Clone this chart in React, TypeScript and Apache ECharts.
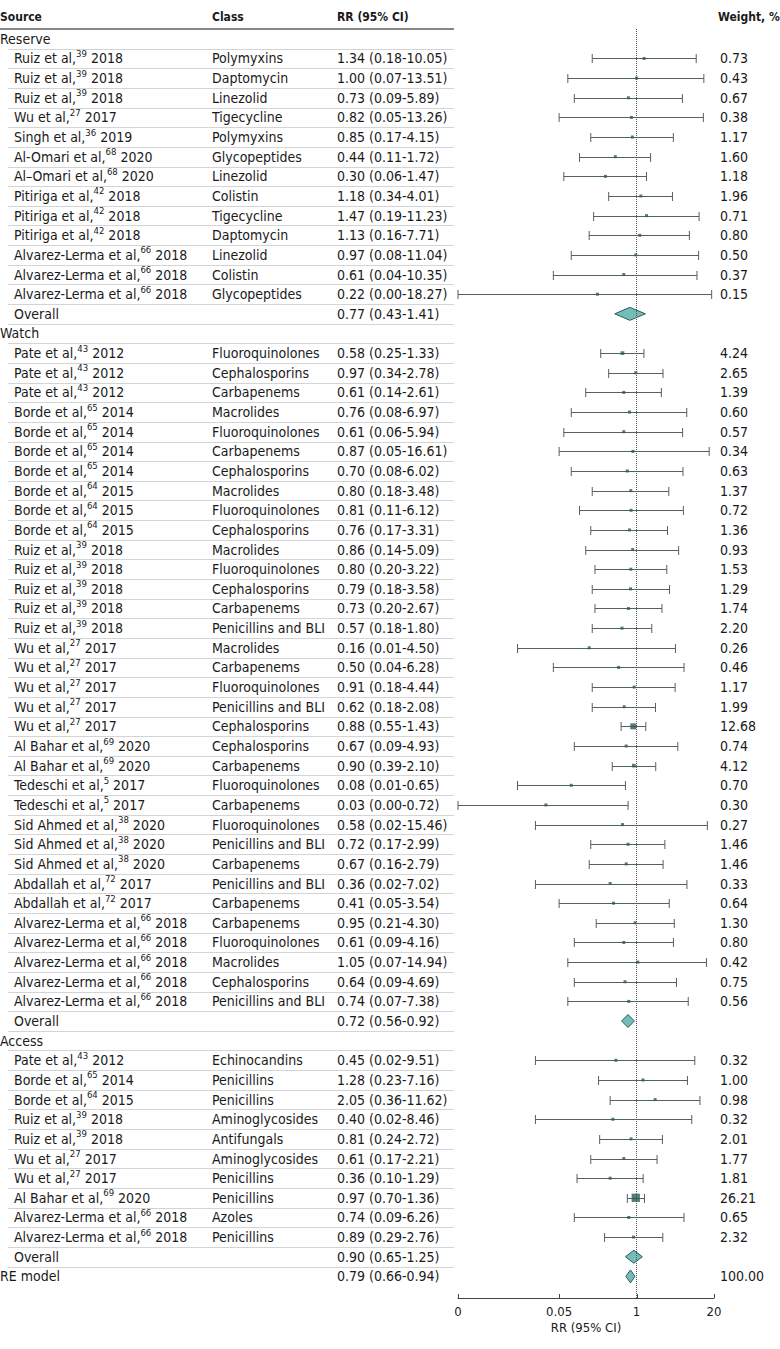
import React, { useEffect, useRef } from "react";
import * as echarts from "echarts";

// [author, reference, year, class, RR, lower CI, upper CI, weight %]
type Study = [string, number, number, string, number, number, number, number];

const reserveStudies: Study[] = [
  ["Ruiz et al", 39, 2018, "Polymyxins", 1.34, 0.18, 10.05, 0.73],
  ["Ruiz et al", 39, 2018, "Daptomycin", 1.0, 0.07, 13.51, 0.43],
  ["Ruiz et al", 39, 2018, "Linezolid", 0.73, 0.09, 5.89, 0.67],
  ["Wu et al", 27, 2017, "Tigecycline", 0.82, 0.05, 13.26, 0.38],
  ["Singh et al", 36, 2019, "Polymyxins", 0.85, 0.17, 4.15, 1.17],
  ["Al-Omari et al", 68, 2020, "Glycopeptides", 0.44, 0.11, 1.72, 1.6],
  ["Al\u2013Omari et al", 68, 2020, "Linezolid", 0.3, 0.06, 1.47, 1.18],
  ["Pitiriga et al", 42, 2018, "Colistin", 1.18, 0.34, 4.01, 1.96],
  ["Pitiriga et al", 42, 2018, "Tigecycline", 1.47, 0.19, 11.23, 0.71],
  ["Pitiriga et al", 42, 2018, "Daptomycin", 1.13, 0.16, 7.71, 0.8],
  ["Alvarez-Lerma et al", 66, 2018, "Linezolid", 0.97, 0.08, 11.04, 0.5],
  ["Alvarez-Lerma et al", 66, 2018, "Colistin", 0.61, 0.04, 10.35, 0.37],
  ["Alvarez-Lerma et al", 66, 2018, "Glycopeptides", 0.22, 0.001, 18.27, 0.15],
];
const reserveOverall = [0.77, 0.43, 1.41];

const watchStudies: Study[] = [
  ["Pate et al", 43, 2012, "Fluoroquinolones", 0.58, 0.25, 1.33, 4.24],
  ["Pate et al", 43, 2012, "Cephalosporins", 0.97, 0.34, 2.78, 2.65],
  ["Pate et al", 43, 2012, "Carbapenems", 0.61, 0.14, 2.61, 1.39],
  ["Borde et al", 65, 2014, "Macrolides", 0.76, 0.08, 6.97, 0.6],
  ["Borde et al", 65, 2014, "Fluoroquinolones", 0.61, 0.06, 5.94, 0.57],
  ["Borde et al", 65, 2014, "Carbapenems", 0.87, 0.05, 16.61, 0.34],
  ["Borde et al", 65, 2014, "Cephalosporins", 0.7, 0.08, 6.02, 0.63],
  ["Borde et al", 64, 2015, "Macrolides", 0.8, 0.18, 3.48, 1.37],
  ["Borde et al", 64, 2015, "Fluoroquinolones", 0.81, 0.11, 6.12, 0.72],
  ["Borde et al", 64, 2015, "Cephalosporins", 0.76, 0.17, 3.31, 1.36],
  ["Ruiz et al", 39, 2018, "Macrolides", 0.86, 0.14, 5.09, 0.93],
  ["Ruiz et al", 39, 2018, "Fluoroquinolones", 0.8, 0.2, 3.22, 1.53],
  ["Ruiz et al", 39, 2018, "Cephalosporins", 0.79, 0.18, 3.58, 1.29],
  ["Ruiz et al", 39, 2018, "Carbapenems", 0.73, 0.2, 2.67, 1.74],
  ["Ruiz et al", 39, 2018, "Penicillins and BLI", 0.57, 0.18, 1.8, 2.2],
  ["Wu et al", 27, 2017, "Macrolides", 0.16, 0.01, 4.5, 0.26],
  ["Wu et al", 27, 2017, "Carbapenems", 0.5, 0.04, 6.28, 0.46],
  ["Wu et al", 27, 2017, "Fluoroquinolones", 0.91, 0.18, 4.44, 1.17],
  ["Wu et al", 27, 2017, "Penicillins and BLI", 0.62, 0.18, 2.08, 1.99],
  ["Wu et al", 27, 2017, "Cephalosporins", 0.88, 0.55, 1.43, 12.68],
  ["Al Bahar et al", 69, 2020, "Cephalosporins", 0.67, 0.09, 4.93, 0.74],
  ["Al Bahar et al", 69, 2020, "Carbapenems", 0.9, 0.39, 2.1, 4.12],
  ["Tedeschi et al", 5, 2017, "Fluoroquinolones", 0.08, 0.01, 0.65, 0.7],
  ["Tedeschi et al", 5, 2017, "Carbapenems", 0.03, 0.001, 0.72, 0.3],
  ["Sid Ahmed et al", 38, 2020, "Fluoroquinolones", 0.58, 0.02, 15.46, 0.27],
  ["Sid Ahmed et al", 38, 2020, "Penicillins and BLI", 0.72, 0.17, 2.99, 1.46],
  ["Sid Ahmed et al", 38, 2020, "Carbapenems", 0.67, 0.16, 2.79, 1.46],
  ["Abdallah et al", 72, 2017, "Penicillins and BLI", 0.36, 0.02, 7.02, 0.33],
  ["Abdallah et al", 72, 2017, "Carbapenems", 0.41, 0.05, 3.54, 0.64],
  ["Alvarez-Lerma et al", 66, 2018, "Carbapenems", 0.95, 0.21, 4.3, 1.3],
  ["Alvarez-Lerma et al", 66, 2018, "Fluoroquinolones", 0.61, 0.09, 4.16, 0.8],
  ["Alvarez-Lerma et al", 66, 2018, "Macrolides", 1.05, 0.07, 14.94, 0.42],
  ["Alvarez-Lerma et al", 66, 2018, "Cephalosporins", 0.64, 0.09, 4.69, 0.75],
  ["Alvarez-Lerma et al", 66, 2018, "Penicillins and BLI", 0.74, 0.07, 7.38, 0.56],
];
const watchOverall = [0.72, 0.56, 0.92];

const accessStudies: Study[] = [
  ["Pate et al", 43, 2012, "Echinocandins", 0.45, 0.02, 9.51, 0.32],
  ["Borde et al", 65, 2014, "Penicillins", 1.28, 0.23, 7.16, 1.0],
  ["Borde et al", 64, 2015, "Penicillins", 2.05, 0.36, 11.62, 0.98],
  ["Ruiz et al", 39, 2018, "Aminoglycosides", 0.4, 0.02, 8.46, 0.32],
  ["Ruiz et al", 39, 2018, "Antifungals", 0.81, 0.24, 2.72, 2.01],
  ["Wu et al", 27, 2017, "Aminoglycosides", 0.61, 0.17, 2.21, 1.77],
  ["Wu et al", 27, 2017, "Penicillins", 0.36, 0.1, 1.29, 1.81],
  ["Al Bahar et al", 69, 2020, "Penicillins", 0.97, 0.7, 1.36, 26.21],
  ["Alvarez-Lerma et al", 66, 2018, "Azoles", 0.74, 0.09, 6.26, 0.65],
  ["Alvarez-Lerma et al", 66, 2018, "Penicillins", 0.89, 0.29, 2.76, 2.32],
];
const accessOverall = [0.9, 0.65, 1.25];

const reModel = [0.79, 0.66, 0.94];
const reModelWeight = 100;

const sectionNames = ["Reserve", "Watch", "Access"];
const columnHeaders = ["Source", "Class", "RR (95% CI)", "Weight, %"];
const xTickValues = [0.001, 0.05, 1, 20];
const xTickLabels = ["0", "0.05", "1", "20"];
const xAxisTitle = "RR (95% CI)";

type Row = {
  kind: "section" | "study" | "overall" | "re";
  label: string;
  refNo?: number;
  year?: number;
  cls?: string;
  rr?: number;
  lo?: number;
  hi?: number;
  w?: number;
};

function buildRows(): Row[] {
  const rows: Row[] = [];
  const groups: [string, Study[], number[]][] = [
    [sectionNames[0], reserveStudies, reserveOverall],
    [sectionNames[1], watchStudies, watchOverall],
    [sectionNames[2], accessStudies, accessOverall],
  ];
  groups.forEach(([name, studies, ov]) => {
    rows.push({ kind: "section", label: name });
    studies.forEach((s) =>
      rows.push({
        kind: "study",
        label: s[0],
        refNo: s[1],
        year: s[2],
        cls: s[3],
        rr: s[4],
        lo: s[5],
        hi: s[6],
        w: s[7],
      })
    );
    rows.push({ kind: "overall", label: "Overall", rr: ov[0], lo: ov[1], hi: ov[2] });
  });
  rows.push({ kind: "re", label: "RE model", rr: reModel[0], lo: reModel[1], hi: reModel[2], w: reModelWeight });
  return rows;
}

const FONT = '"DejaVu Sans Condensed", "Liberation Sans Narrow", sans-serif';
const TEXT = "#1a1a1a";
const fmtCI = (rr: number, lo: number, hi: number) =>
  `${rr.toFixed(2)} (${(lo < 0.005 ? 0 : lo).toFixed(2)}-${hi.toFixed(2)})`;

export default function App() {
  const ref = useRef<HTMLDivElement>(null);

  useEffect(() => {
    document.body.style.margin = "0";
    if (!ref.current) return;
    const chart = echarts.init(ref.current, null, { renderer: "svg" });
    const rows = buildRows();
    const yMin = -0.5;
    const yMax = 64.1;

    const ciData: number[][] = [];
    const pointData: number[][] = [];
    const diamondData: number[][] = [];
    rows.forEach((r, i) => {
      if (r.kind === "study") {
        ciData.push([r.lo!, r.hi!, i]);
        pointData.push([r.rr!, i, r.w!]);
      } else if (r.kind === "overall" || r.kind === "re") {
        diamondData.push([r.rr!, r.lo!, r.hi!, i]);
      }
    });

    const COL_SOURCE = 14;
    const COL_CLASS = 212;
    const COL_RR = 337;
    const COL_W = 720;
    const TABLE_END = 454;
    const FS = 14;
    const headStyle = { fontSize: 12, fontWeight: "bold", fontFamily: FONT, fill: TEXT, verticalAlign: "middle" };

    const option: any = {
      animation: false,
      grid: { left: 458, right: 66, top: 29, bottom: 51, containLabel: false },
      xAxis: {
        type: "log",
        logBase: 10,
        min: 0.001,
        max: 20,
        axisLine: { show: true, onZero: false, lineStyle: { color: "#444", width: 1 } },
        axisTick: { show: false },
        axisLabel: { show: false },
        splitLine: { show: false },
        minorTick: { show: false },
        name: xAxisTitle,
        nameLocation: "middle",
        nameGap: 23,
        nameTextStyle: { fontSize: 13, fontFamily: FONT, color: TEXT },
      },
      yAxis: {
        type: "value",
        inverse: true,
        min: yMin,
        max: yMax,
        show: false,
      },
      graphic: [
        {
          type: "group",
          children: [
            { type: "text", x: 0, y: 17, style: { ...headStyle, text: columnHeaders[0] } },
            { type: "text", x: COL_CLASS, y: 17, style: { ...headStyle, text: columnHeaders[1] } },
            { type: "text", x: COL_RR, y: 17, style: { ...headStyle, text: columnHeaders[2] } },
            { type: "text", x: 718, y: 17, style: { ...headStyle, text: columnHeaders[3] } },
            { type: "line", shape: { x1: 0, y1: 29, x2: TABLE_END, y2: 29 }, style: { stroke: "#111", lineWidth: 1.2 } },
          ],
        },
      ],
      series: [
        {
          type: "custom",
          name: "table",
          clip: false,
          silent: true,
          z: 1,
          data: rows.map((_, i) => [1, i]),
          encode: { x: 0, y: 1 },
          renderItem: (params: any, api: any) => {
            const i = params.dataIndex;
            const r = rows[i];
            const y = api.coord([1, i])[1];
            const children: any[] = [];
            const base = { fontSize: FS, fontFamily: FONT, fill: TEXT, verticalAlign: "middle", align: "left" };
            if (r.kind === "section" || r.kind === "re") {
              children.push({ type: "text", x: 0, y, style: { ...base, text: r.label } });
            } else if (r.kind === "overall") {
              children.push({ type: "text", x: COL_SOURCE, y, style: { ...base, text: r.label } });
            } else {
              children.push({
                type: "text",
                x: COL_SOURCE,
                y,
                style: {
                  ...base,
                  text: `{n|${r.label},}{s|${r.refNo}}{n| ${r.year}}`,
                  rich: {
                    n: { fontSize: FS, fontFamily: FONT, fill: TEXT, lineHeight: 20 },
                    s: { fontSize: 9.5, fontFamily: FONT, fill: TEXT, verticalAlign: "top" },
                  },
                },
              });
              children.push({ type: "text", x: COL_CLASS, y, style: { ...base, text: r.cls } });
            }
            if (r.rr !== undefined) {
              children.push({ type: "text", x: COL_RR, y, style: { ...base, text: fmtCI(r.rr, r.lo!, r.hi!) } });
            }
            if (r.w !== undefined) {
              children.push({ type: "text", x: COL_W, y, style: { ...base, text: r.w.toFixed(2) } });
            }
            if (i < rows.length - 1) {
              const yl = Math.round(api.coord([1, i + 0.5])[1]) + 0.5;
              children.push({
                type: "line",
                shape: { x1: 8, y1: yl, x2: TABLE_END, y2: yl },
                style: { stroke: "#d4d4d4", lineWidth: 1 },
              });
            }
            return { type: "group", children };
          },
        },
        {
          type: "custom",
          name: "ci",
          clip: false,
          silent: true,
          z: 2,
          data: ciData,
          encode: { x: [0, 1], y: 2 },
          renderItem: (params: any, api: any) => {
            const lo = api.value(0);
            const hi = api.value(1);
            const row = api.value(2);
            const p1 = api.coord([lo, row]);
            const p2 = api.coord([hi, row]);
            const y = Math.round(p1[1]) + 0.5;
            const st = { stroke: "#556161", lineWidth: 1 };
            return {
              type: "group",
              children: [
                { type: "line", shape: { x1: p1[0], y1: y, x2: p2[0], y2: y }, style: st },
                { type: "line", shape: { x1: p1[0], y1: y - 4.5, x2: p1[0], y2: y + 4.5 }, style: st },
                { type: "line", shape: { x1: p2[0], y1: y - 4.5, x2: p2[0], y2: y + 4.5 }, style: st },
              ],
            };
          },
        },
        {
          type: "scatter",
          name: "estimate",
          silent: true,
          z: 3,
          symbol: "rect",
          symbolSize: (val: number[]) => Math.max(3, 1.5 * Math.sqrt(val[2]) + 0.6),
          itemStyle: { color: "#2a5a58" },
          data: pointData,
          markLine: {
            silent: true,
            symbol: ["none", "none"],
            label: { show: false },
            lineStyle: { type: "dotted", color: "#555", width: 1 },
            data: [{ xAxis: 1 }],
          },
        },
        {
          type: "custom",
          name: "pooled",
          clip: false,
          silent: true,
          z: 4,
          data: diamondData,
          encode: { x: [0, 1, 2], y: 3 },
          renderItem: (params: any, api: any) => {
            const rr = api.value(0);
            const lo = api.value(1);
            const hi = api.value(2);
            const row = api.value(3);
            const pc = api.coord([rr, row]);
            const pl = api.coord([lo, row]);
            const ph = api.coord([hi, row]);
            const h = 6.5;
            return {
              type: "polygon",
              shape: {
                points: [
                  [pl[0], pc[1]],
                  [pc[0], pc[1] - h],
                  [ph[0], pc[1]],
                  [pc[0], pc[1] + h],
                ],
              },
              style: { fill: "#74bcb8", stroke: "#2d5c5a", lineWidth: 1 },
            };
          },
        },
        {
          type: "custom",
          name: "ticks",
          clip: false,
          silent: true,
          z: 5,
          data: xTickValues.map((v, i) => [v, i]),
          encode: { x: 0 },
          renderItem: (params: any, api: any) => {
            const v = api.value(0);
            const idx = api.value(1);
            const p = api.coord([v, yMax]);
            const x = Math.round(p[0]) + 0.5;
            return {
              type: "group",
              children: [
                { type: "line", shape: { x1: x, y1: p[1], x2: x, y2: p[1] - 4 }, style: { stroke: "#444", lineWidth: 1 } },
                {
                  type: "text",
                  x: p[0],
                  y: p[1] + 13,
                  style: { text: xTickLabels[idx], fontSize: 13, fontFamily: FONT, fill: TEXT, align: "center", verticalAlign: "middle" },
                },
              ],
            };
          },
        },
      ],
    };

    chart.setOption(option);
    return () => chart.dispose();
  }, []);

  return <div ref={ref} style={{ width: 780, height: 1349 }} />;
}
